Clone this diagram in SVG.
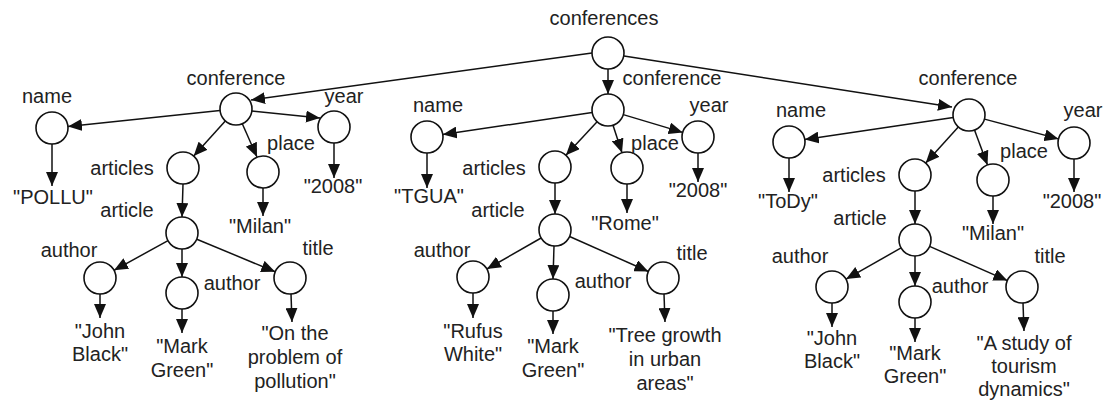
<svg xmlns="http://www.w3.org/2000/svg" width="1107" height="400" viewBox="0 0 1107 400">
<style>
  .n { fill: #ffffff; stroke: #111; stroke-width: 1.6; }
  .t { font-family: "Liberation Sans", Arial, sans-serif; font-size: 20px; fill: #222; text-anchor: middle; }
  .e { stroke: #111; stroke-width: 1.5; fill: none; marker-end: url(#ah); }
</style>
<defs>
  <marker id="ah" markerUnits="userSpaceOnUse" markerWidth="14" markerHeight="12" refX="14" refY="6" orient="auto">
    <path d="M0,0 L14,6 L0,12 z" fill="#111"/>
  </marker>
</defs>
<rect width="1107" height="400" fill="#ffffff"/>

<g id="connectors">
  <!-- root -->
  <line class="e" x1="592" y1="53" x2="251" y2="100"/>
  <line class="e" x1="608" y1="69" x2="608" y2="94"/>
  <line class="e" x1="624" y1="56" x2="952" y2="107"/>
  <!-- tree 1 -->
  <line class="e" x1="220" y1="110.6" x2="68" y2="126.4"/>
  <line class="e" x1="252" y1="111" x2="320" y2="118"/>
  <line class="e" x1="225.3" y1="120.9" x2="193.7" y2="156.1"/>
  <line class="e" x1="242.3" y1="123.7" x2="257" y2="157"/>
  <line class="e" x1="52" y1="144" x2="52" y2="186"/>
  <line class="e" x1="334" y1="143" x2="334" y2="178"/>
  <line class="e" x1="263" y1="188" x2="263" y2="216"/>
  <line class="e" x1="183" y1="184" x2="182" y2="217"/>
  <line class="e" x1="168" y1="240.7" x2="114" y2="270.3"/>
  <line class="e" x1="182" y1="249" x2="182" y2="277"/>
  <line class="e" x1="196.8" y1="239.2" x2="275.2" y2="271.8"/>
  <line class="e" x1="100" y1="294" x2="100" y2="318"/>
  <line class="e" x1="182" y1="309" x2="182" y2="333"/>
  <line class="e" x1="291" y1="294" x2="292" y2="322"/>
  <!-- tree 2 -->
  <line class="e" x1="592.2" y1="112.4" x2="442.8" y2="134.6"/>
  <line class="e" x1="623.3" y1="114.6" x2="682.7" y2="132.4"/>
  <line class="e" x1="597.1" y1="121.7" x2="565.9" y2="155.3"/>
  <line class="e" x1="613" y1="125.2" x2="622" y2="152.8"/>
  <line class="e" x1="427" y1="153" x2="427" y2="188"/>
  <line class="e" x1="698" y1="153" x2="698" y2="182"/>
  <line class="e" x1="627" y1="184" x2="627" y2="213"/>
  <line class="e" x1="555" y1="183" x2="555" y2="214"/>
  <line class="e" x1="541.1" y1="238" x2="486.9" y2="269"/>
  <line class="e" x1="554" y1="246" x2="553" y2="279"/>
  <line class="e" x1="569.6" y1="236.5" x2="648.4" y2="271.5"/>
  <line class="e" x1="473" y1="293" x2="473" y2="318"/>
  <line class="e" x1="553" y1="311" x2="553" y2="334"/>
  <line class="e" x1="664" y1="294" x2="665" y2="322"/>
  <!-- tree 3 -->
  <line class="e" x1="953.2" y1="117.4" x2="804.8" y2="139.6"/>
  <line class="e" x1="984.5" y1="119.1" x2="1058.5" y2="138.9"/>
  <line class="e" x1="958.3" y1="126.9" x2="925.7" y2="163.1"/>
  <line class="e" x1="974.5" y1="130" x2="987.5" y2="165"/>
  <line class="e" x1="789" y1="158" x2="789" y2="192"/>
  <line class="e" x1="1074" y1="159" x2="1074" y2="192"/>
  <line class="e" x1="993" y1="196" x2="993" y2="224"/>
  <line class="e" x1="915" y1="191" x2="915" y2="224"/>
  <line class="e" x1="901.1" y1="247.9" x2="846.1" y2="279.1"/>
  <line class="e" x1="915" y1="256" x2="915" y2="286"/>
  <line class="e" x1="929.6" y1="246.4" x2="1007.4" y2="280.6"/>
  <line class="e" x1="832" y1="303" x2="832" y2="327"/>
  <line class="e" x1="915" y1="318" x2="915" y2="342"/>
  <line class="e" x1="1023" y1="303" x2="1024" y2="331"/>
</g>

<g id="root"><circle class="n" cx="608" cy="53" r="16"/><text class="t" x="604" y="25">conferences</text></g>

<!-- tree 1 -->
<g id="conf1"><circle class="n" cx="236" cy="109" r="16"/><text class="t" x="236" y="85">conference</text></g>
<g id="name1"><circle class="n" cx="52" cy="128" r="16"/><text class="t" x="47" y="103">name</text></g>
<g id="year1"><circle class="n" cx="334" cy="127" r="16"/><text class="t" x="344" y="103">year</text></g>
<g id="articles1"><circle class="n" cx="183" cy="168" r="16"/><text class="t" x="122" y="175">articles</text></g>
<g id="place1"><circle class="n" cx="263" cy="172" r="16"/><text class="t" x="291" y="150">place</text></g>
<g id="article1"><circle class="n" cx="182" cy="233" r="16"/><text class="t" x="127" y="217">article</text></g>
<g id="author1a"><circle class="n" cx="100" cy="278" r="16"/><text class="t" x="69" y="257">author</text></g>
<g id="author1b"><circle class="n" cx="182" cy="293" r="16"/><text class="t" x="232" y="290">author</text></g>
<g id="title1"><circle class="n" cx="290" cy="278" r="16"/><text class="t" x="318" y="255">title</text></g>
<g id="v-pollu"><text class="t" x="53" y="204">"POLLU"</text></g>
<g id="v-2008a"><text class="t" x="333" y="193">"2008"</text></g>
<g id="v-milan1"><text class="t" x="260" y="233">"Milan"</text></g>
<g id="v-john1"><text class="t" x="100" y="338">"John</text><text class="t" x="100" y="361">Black"</text></g>
<g id="v-mark1"><text class="t" x="182" y="353">"Mark</text><text class="t" x="182" y="377">Green"</text></g>
<g id="v-title1"><text class="t" x="295" y="340">"On the</text><text class="t" x="295" y="364">problem of</text><text class="t" x="295" y="388">pollution"</text></g>

<!-- tree 2 -->
<g id="conf2"><circle class="n" cx="608" cy="110" r="16"/><text class="t" x="672" y="85">conference</text></g>
<g id="name2"><circle class="n" cx="427" cy="137" r="16"/><text class="t" x="438" y="112">name</text></g>
<g id="year2"><circle class="n" cx="698" cy="137" r="16"/><text class="t" x="709" y="112">year</text></g>
<g id="articles2"><circle class="n" cx="555" cy="167" r="16"/><text class="t" x="494" y="175">articles</text></g>
<g id="place2"><circle class="n" cx="627" cy="168" r="16"/><text class="t" x="655" y="150">place</text></g>
<g id="article2"><circle class="n" cx="555" cy="230" r="16"/><text class="t" x="498" y="217">article</text></g>
<g id="author2a"><circle class="n" cx="473" cy="277" r="16"/><text class="t" x="442" y="257">author</text></g>
<g id="author2b"><circle class="n" cx="553" cy="295" r="16"/><text class="t" x="603" y="288">author</text></g>
<g id="title2"><circle class="n" cx="663" cy="278" r="16"/><text class="t" x="692" y="260">title</text></g>
<g id="v-tgua"><text class="t" x="429" y="203">"TGUA"</text></g>
<g id="v-2008b"><text class="t" x="698" y="197">"2008"</text></g>
<g id="v-rome"><text class="t" x="625" y="230">"Rome"</text></g>
<g id="v-rufus"><text class="t" x="473" y="338">"Rufus</text><text class="t" x="473" y="361">White"</text></g>
<g id="v-mark2"><text class="t" x="553" y="353">"Mark</text><text class="t" x="553" y="377">Green"</text></g>
<g id="v-title2"><text class="t" x="665" y="342">"Tree growth</text><text class="t" x="665" y="366">in urban</text><text class="t" x="665" y="390">areas"</text></g>

<!-- tree 3 -->
<g id="conf3"><circle class="n" cx="969" cy="115" r="16"/><text class="t" x="968" y="85">conference</text></g>
<g id="name3"><circle class="n" cx="789" cy="142" r="16"/><text class="t" x="801" y="117">name</text></g>
<g id="year3"><circle class="n" cx="1074" cy="143" r="16"/><text class="t" x="1083" y="117">year</text></g>
<g id="articles3"><circle class="n" cx="915" cy="175" r="16"/><text class="t" x="854" y="182">articles</text></g>
<g id="place3"><circle class="n" cx="993" cy="180" r="16"/><text class="t" x="1024" y="158">place</text></g>
<g id="article3"><circle class="n" cx="915" cy="240" r="16"/><text class="t" x="860" y="225">article</text></g>
<g id="author3a"><circle class="n" cx="832" cy="287" r="16"/><text class="t" x="800" y="263">author</text></g>
<g id="author3b"><circle class="n" cx="915" cy="302" r="16"/><text class="t" x="960" y="293">author</text></g>
<g id="title3"><circle class="n" cx="1022" cy="287" r="16"/><text class="t" x="1050" y="263">title</text></g>
<g id="v-tody"><text class="t" x="788" y="208">"ToDy"</text></g>
<g id="v-2008c"><text class="t" x="1072" y="208">"2008"</text></g>
<g id="v-milan3"><text class="t" x="993" y="240">"Milan"</text></g>
<g id="v-john3"><text class="t" x="832" y="345">"John</text><text class="t" x="832" y="368">Black"</text></g>
<g id="v-mark3"><text class="t" x="915" y="360">"Mark</text><text class="t" x="915" y="383">Green"</text></g>
<g id="v-title3"><text class="t" x="1024" y="350">"A study of</text><text class="t" x="1024" y="373">tourism</text><text class="t" x="1024" y="396">dynamics"</text></g>
</svg>
